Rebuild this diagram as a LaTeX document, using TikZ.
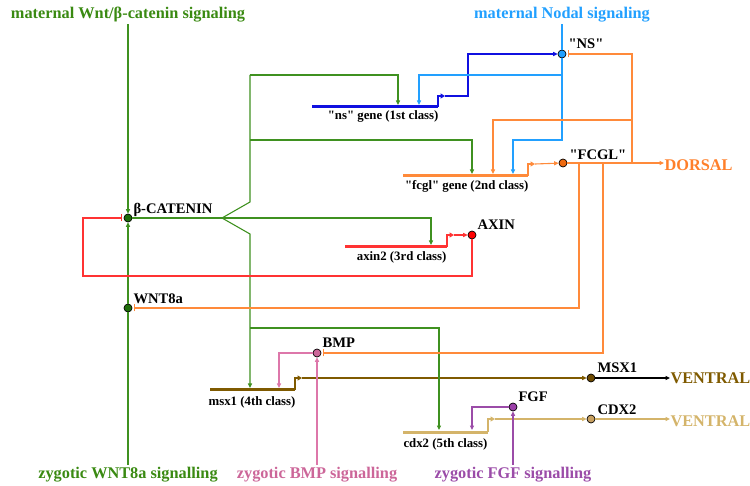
\documentclass[tikz,border=0pt]{standalone}
\usepackage{fontspec}
\setmainfont{Liberation Serif}[Ligatures=TeXOff]
\usetikzlibrary{arrows.meta}
\definecolor{cGreen}{HTML}{3F9120}
\definecolor{cGreenT}{HTML}{3A8A12}
\definecolor{cGreenD}{HTML}{1F6E0A}
\definecolor{cLBlue}{HTML}{22A0FF}
\definecolor{cBlue}{HTML}{1010E0}
\definecolor{cOrange}{HTML}{FF8A3A}
\definecolor{cOrangeT}{HTML}{FF7F2A}
\definecolor{cOrangeD}{HTML}{EE6A10}
\definecolor{cRed}{HTML}{FF3333}
\definecolor{cBrown}{HTML}{7F5A00}
\definecolor{cBrownD}{HTML}{6E4A00}
\definecolor{cTan}{HTML}{D4B46A}
\definecolor{cTanD}{HTML}{C8A060}
\definecolor{cPink}{HTML}{DD77AA}
\definecolor{cPinkD}{HTML}{CC6699}
\definecolor{cPurple}{HTML}{9B4CA8}
\definecolor{cPurpleD}{HTML}{9B3FA8}
\begin{document}
\begin{tikzpicture}[x=1pt,y=-1pt,line width=1.1pt,
  ar/.style={-{Triangle[length=4.5pt,width=4pt]}},
  inh/.style={-{Bar[width=7pt,line width=1pt]},shorten >=1.5pt},
  gene/.style={line width=3pt},
  prom/.style={line width=2pt,-{Triangle[length=4.5pt,width=5pt]}},
  dot/.style={circle,draw=black,line width=0.7pt,minimum size=8pt,inner sep=0pt},
  lab/.style={font=\bfseries\fontsize{14.6}{16}\selectfont,anchor=base west,inner sep=0pt},
  big/.style={font=\bfseries\fontsize{16.3}{18}\selectfont,inner sep=1pt,anchor=base},
  glab/.style={font=\bfseries\fontsize{12.8}{14}\selectfont,anchor=base east,inner sep=0pt}]
\useasboundingbox (0,0) rectangle (750,486);

% signalling texts
\node[big,text=cGreenT] (wntT) at (128,19) {maternal Wnt/β-catenin signaling};
\node[big,text=cLBlue] (nodT) at (562,19) {maternal Nodal signaling};
\node[big,text=cGreenT] (zW) at (128,478) {zygotic WNT8a signalling};
\node[big,text=cPinkD] (zB) at (317,478) {zygotic BMP signalling};
\node[big,text=cPurple] (zF) at (513,478) {zygotic FGF signalling};
\node[big,anchor=base west,inner sep=0pt,text=cOrangeT] (dors) at (664,171) {DORSAL};
\node[big,anchor=base west,inner sep=0pt,text=cBrown] (ven1) at (670,384) {VENTRAL};
\node[big,anchor=base west,inner sep=0pt,text=cTan] (ven2) at (670,426) {VENTRAL};

% protein dots
\node[dot,fill=cGreenD] (bcat) at (128,218) {};
\node[dot,fill=cGreenD] (wnt) at (128,308) {};
\node[dot,fill=cLBlue] (ns) at (562,54) {};
\node[dot,fill=cOrangeD] (fcgl) at (563,163) {};
\node[dot,fill=red] (axin) at (472,235) {};
\node[dot,fill=cPinkD] (bmp) at (317,353) {};
\node[dot,fill=cBrownD] (msx) at (591,378) {};
\node[dot,fill=cTanD] (cdx) at (591,419) {};
\node[dot,fill=cPurpleD] (fgf) at (513,407) {};

\node[lab] (bcatL) at (133,214) {β-CATENIN};
\node[lab] (wntL) at (133,304) {WNT8a};
\node[lab] (nsL) at (568,49) {"NS"};
\node[lab] (fcglL) at (569,160) {"FCGL"};
\node[lab] (axinL) at (477,230) {AXIN};
\node[lab] (bmpL) at (322,348) {BMP};
\node[lab] (msxL) at (597,373) {MSX1};
\node[lab] (fgfL) at (518,402) {FGF};
\node[lab] (cdxL) at (597,414) {CDX2};

% genes
\coordinate (g1a) at (312,107); \coordinate (g1b) at (438,107);
\coordinate (g2a) at (403,176); \coordinate (g2b) at (528,176);
\coordinate (g3a) at (345,247); \coordinate (g3b) at (447,247);
\coordinate (g4a) at (210,390); \coordinate (g4b) at (295,390);
\coordinate (g5a) at (403,432); \coordinate (g5b) at (488,432);
\draw[gene,cBlue] (g1a) -- (g1b);
\draw[gene,cOrange] (g2a) -- (g2b);
\draw[gene,cRed] (g3a) -- (g3b);
\draw[gene,cBrown] (g4a) -- (g4b);
\draw[gene,cTan] (g5a) -- (g5b);
\node[glab] (g1L) at (439,120) {"ns" gene (1st class)};
\node[glab] (g2L) at (529,190) {"fcgl" gene (2nd class)};
\node[glab] (g3L) at (447,261) {axin2 (3rd class)};
\node[glab] (g4L) at (296,406) {msx1 (4th class)};
\node[glab] (g5L) at (488,447) {cdx2 (5th class)};

% promoters and products
\coordinate (p1) at (445,96);
\coordinate (p2) at (535,164);
\coordinate (p3) at (454,235);
\coordinate (p4) at (302,378);
\coordinate (p5) at (495,419);
\draw[prom,cBlue] (g1b) |- (p1);
\draw[prom,cOrange] (g2b) |- (p2);
\draw[prom,cRed] (g3b) |- (p3);
\draw[prom,cBrown] (g4b) |- (p4);
\draw[prom,cTan] (g5b) |- (p5);
\draw[ar,cBlue] (p1) -- (468,96) |- (ns);
\draw[ar,cOrange] (p2) -- (fcgl);
\draw[ar,cRed] (p3) -- (axin);
\draw[ar,cBrown] (p4) -- (msx);
\draw[ar,cTan] (p5) -- (cdx);

% gene targets
\coordinate (t1g) at (398,105); \coordinate (t1b) at (419,105);
\coordinate (t2g) at (472,174); \coordinate (t2o) at (493,174); \coordinate (t2b) at (513,174);
\coordinate (t3g) at (431,245);
\coordinate (t4g) at (250,388); \coordinate (t4p) at (279,388);
\coordinate (t5g) at (439,430); \coordinate (t5p) at (472,430);

% green network
\draw[ar,cGreen] (wntT.south) -- (bcat);
\draw[cGreen] (zW.north) -- (wnt);
\draw[ar,cGreen] (wnt) -- (bcat);
\coordinate (fork) at (222,218);
\coordinate (up) at (250,202);
\coordinate (dn) at (250,234);
\coordinate (u1) at (250,75);
\coordinate (u2) at (250,140);
\coordinate (d1) at (250,328);
\draw[cGreen] (bcat) -- (fork);
\draw[ar,cGreen] (fork) -| (t3g);
\draw[cGreen] (fork) -- (up) -- (u1);
\draw[ar,cGreen] (u1) -| (t1g);
\draw[ar,cGreen] (u2) -| (t2g);
\draw[ar,cGreen] (fork) -- (dn) -- (t4g);
\draw[ar,cGreen] (d1) -| (t5g);

% nodal
\coordinate (n1) at (562,75);
\coordinate (n2) at (562,140);
\draw[cLBlue] (nodT.south) -- (ns);
\draw[ar,cLBlue] (ns) -- (n2) -| (t2b);
\draw[ar,cLBlue] (n1) -| (t1b);

% FCGL outputs
\coordinate (o1) at (632,163);
\coordinate (o1b) at (632,120);
\coordinate (o2) at (579,163);
\coordinate (o3) at (603,163);
\draw[ar,cOrange] (fcgl) -- (dors.west |- fcgl);
\draw[inh,cOrange] (o1) |- (ns);
\draw[ar,cOrange] (o1b) -| (t2o);
\draw[inh,cOrange] (o2) |- (wnt);
\draw[inh,cOrange] (o3) |- (bmp);

% AXIN feedback
\draw[inh,cRed] (axin) -- (472,276) -- (83,276) -- (83,218) -- (bcat);

% BMP, FGF
\draw[ar,cPink] (zB.north) -- (bmp);
\draw[ar,cPink] (bmp) -| (t4p);
\draw[ar,cPurple] (zF.north) -- (fgf);
\draw[ar,cPurple] (fgf) -| (t5p);

% outputs
\draw[ar,black] (msx) -- (ven1.west |- msx);
\draw[ar,cTan] (cdx) -- (ven2.west |- cdx);
\end{tikzpicture}
\end{document}
